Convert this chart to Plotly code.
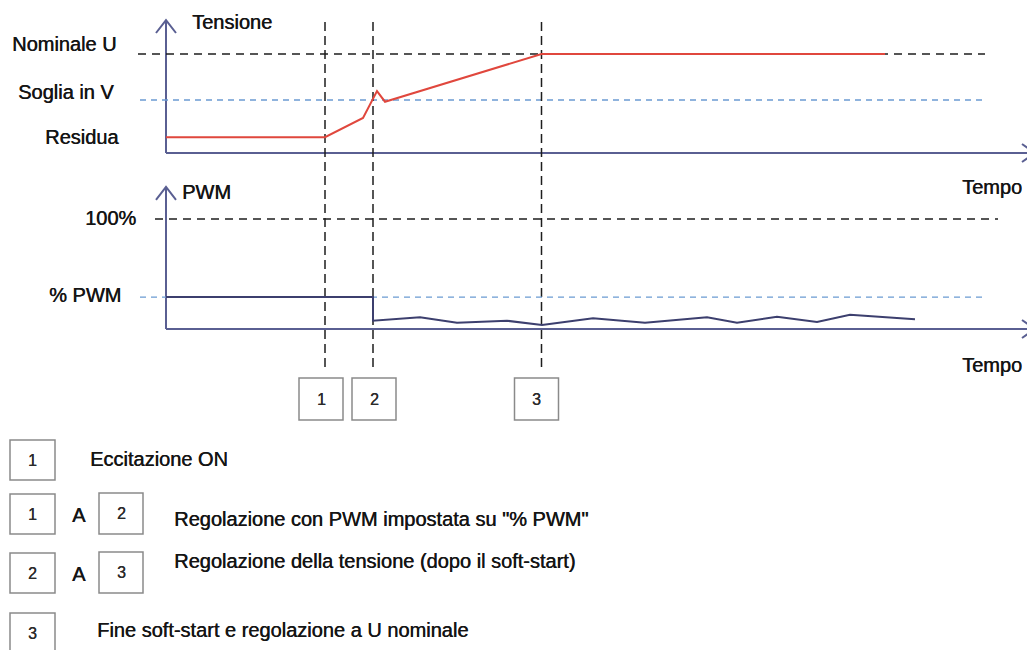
import plotly.graph_objects as go

# reference canvas is 1035x650; the page body has an 8px margin,
# so the figure is shrunk by that margin and all pixel helpers are offset.
REF_W, REF_H = 1035, 650
OFF = 8
W, H = REF_W - OFF, REF_H - OFF

# ---------------- data ----------------
# event instants (time units)
event_times = [15.9, 20.7, 37.55]
event_labels = ["1", "2", "3"]

# voltage chart (per-unit of nominal voltage)
v_level_names = ["Nominale U", "Soglia in V", "Residua"]
v_level_values = [1.0, 0.535, 0.16]
tension_t = [0, 15.9, 19.7, 21.1, 21.9, 37.55, 71.9]
tension_v = [0.16, 0.16, 0.354, 0.626, 0.518, 1.0, 1.0]

# PWM chart (%)
pwm_level_names = ["100%", "% PWM"]
pwm_level_values = [100, 29]
pwm_t = [0, 20.7, 20.7, 25.4, 29.1, 34.1, 37.6, 42.7, 47.9, 54.1, 57.1, 61.1, 65.1, 68.4, 74.9]
pwm_v = [29, 29, 7.5, 10.6, 5.7, 7.5, 3.6, 9.7, 5.7, 10.6, 5.7, 11.2, 6.4, 13.0, 8.8]

# legend rows
legend_first = ["1", "1", "2", "3"]
legend_second = [None, "2", "3", None]
legend_texts = [
    "Eccitazione ON",
    "Regolazione con PWM impostata su \"% PWM\"",
    "Regolazione della tensione (dopo il soft-start)",
    "Fine soft-start e regolazione a U nominale",
]

# ---------------- style ----------------
FONT = "Liberation Sans, Arial, sans-serif"
TXT = "#151515"
SHADOW = "0.45px 0 0 #151515"
AXIS_C = "#5a5f92"
RED = "#e0473d"
NAVY = "#3c3f6e"
BLUE_D = "#6b9bd2"
BLACK_D = "#1e1e1e"
BOX_C = "#8a8a8a"


def PX(px):  # paper x from reference pixel
    return (px - OFF) / W


def PY(py):  # paper y from reference pixel
    return 1 - (py - OFF) / H


fig = go.Figure()


def axis_trace(xs, ys, yaxis):
    fig.add_trace(go.Scatter(x=xs, y=ys, mode="lines", yaxis=yaxis,
                             line=dict(color=AXIS_C, width=2),
                             hoverinfo="skip", showlegend=False))


# voltage axes (open chevron arrows)
axis_trace([0, 0, None, -1.0, 0, 1.0], [0, 1.343, None, 1.212, 1.343, 1.212], "y")
axis_trace([0, 86.85, None, 85.6, 86.85, 85.6], [0, 0, None, 0.091, 0, -0.091], "y")
# PWM axes
axis_trace([0, 0, None, -1.0, 0, 1.0], [0, 129.1, None, 117.3, 129.1, 117.3], "y2")
axis_trace([0, 86.85, None, 85.6, 86.85, 85.6], [0, 0, None, 8.2, 0, -8.2], "y2")

# dashed reference levels
v_level_span = [(-2.8, 81.9), (-2.6, 81.9), None]
v_level_colors = [BLACK_D, BLUE_D, None]
v_level_dash = ["8px,6px", "6px,5px", None]
for val, span, col, dash in zip(v_level_values, v_level_span, v_level_colors, v_level_dash):
    if span is None:
        continue
    fig.add_trace(go.Scatter(x=list(span), y=[val, val], mode="lines", yaxis="y",
                             line=dict(color=col, width=1.4, dash=dash),
                             hoverinfo="skip", showlegend=False))

pwm_level_span = [(-1.1, 83.2), (-2.6, 81.6)]
pwm_level_colors = [BLACK_D, BLUE_D]
pwm_level_dash = ["8px,6px", "6px,5px"]
for val, span, col, dash in zip(pwm_level_values, pwm_level_span, pwm_level_colors, pwm_level_dash):
    fig.add_trace(go.Scatter(x=list(span), y=[val, val], mode="lines", yaxis="y2",
                             line=dict(color=col, width=1.4, dash=dash),
                             hoverinfo="skip", showlegend=False))

# vertical event lines
for t in event_times:
    fig.add_trace(go.Scatter(x=[t, t], y=[1.323, -2.212], mode="lines", yaxis="y",
                             line=dict(color=BLACK_D, width=1.5, dash="9px,5px"),
                             hoverinfo="skip", showlegend=False))

# tension curve
fig.add_trace(go.Scatter(x=tension_t, y=tension_v, mode="lines", yaxis="y",
                         line=dict(color=RED, width=2),
                         hoverinfo="skip", showlegend=False))
# PWM curve
fig.add_trace(go.Scatter(x=pwm_t, y=pwm_v, mode="lines", yaxis="y2",
                         line=dict(color=NAVY, width=2),
                         hoverinfo="skip", showlegend=False))

shapes = []
annotations = []


def text(x, y, s, xanchor="left", size=20, xref="paper", yref="paper", color=TXT):
    annotations.append(dict(x=x, y=y, xref=xref, yref=yref, text=s, showarrow=False,
                            xanchor=xanchor, yanchor="middle",
                            font=dict(family=FONT, size=size, color=color, shadow=SHADOW)))


def box(x0, y0, x1, y1, label, xref="paper"):
    shapes.append(dict(type="rect", xref=xref, yref="paper", x0=x0, x1=x1,
                       y0=PY(y1), y1=PY(y0), line=dict(color=BOX_C, width=1.5)))
    annotations.append(dict(x=(x0 + x1) / 2, y=PY((y0 + y1) / 2), xref=xref, yref="paper",
                            text=label, showarrow=False, xanchor="center", yanchor="middle",
                            font=dict(family=FONT, size=16, color="#2a2a2a",
                                      shadow="0.35px 0 0 #2a2a2a")))


# level labels (pixel lift above their level line)
v_label_right = [118, 116, 121]
v_label_lift = [10, 8, 0]
for name, val, xr, dy in zip(v_level_names, v_level_values, v_label_right, v_label_lift):
    text(PX(xr), val + dy / 99, name, xanchor="right", yref="y")
pwm_label_right = [138, 123]
pwm_label_lift = [1, 2]
for name, val, xr, dy in zip(pwm_level_names, pwm_level_values, pwm_label_right, pwm_label_lift):
    text(PX(xr), val + dy / 1.1, name, xanchor="right", yref="y2")

# axis titles
text(PX(190), PY(22), "Tensione")
text(PX(180), PY(192), "PWM")
text(PX(960), PY(187), "Tempo")
text(PX(960), PY(365), "Tempo")

# event boxes
box_offsets = [-0.4, 0.1, -0.5]
for t, lab, off in zip(event_times, event_labels, box_offsets):
    box(t + off - 2.2, 378, t + off + 2.2, 420, lab, xref="x")

# legend
row_tops = [440, 494, 553, 613]
text_x = [88, 172, 172, 95]
text_y = [459, 519, 561, 630]
for i in range(4):
    top = row_tops[i]
    box(PX(10), top, PX(55), top + 40, legend_first[i])
    if legend_second[i] is not None:
        text(PX(70), PY(top + 21), "A")
        box(PX(99), top - 1, PX(143), top + 40, legend_second[i])
    text(PX(text_x[i]), PY(text_y[i]), legend_texts[i])

# axis ranges: reference pixel -> data  (t = (px-166)/10, v = (153-py)/99, pwm = (329-py)/1.1)
fig.update_layout(
    width=W, height=H,
    margin=dict(l=0, r=0, t=0, b=0),
    paper_bgcolor="white", plot_bgcolor="white",
    xaxis=dict(range=[(OFF - 166) / 10, (REF_W - 166) / 10], visible=False, domain=[0, 1]),
    yaxis=dict(range=[(153 - REF_H) / 99, (153 - OFF) / 99], visible=False, domain=[0, 1]),
    yaxis2=dict(range=[(329 - REF_H) / 1.1, (329 - OFF) / 1.1], visible=False, overlaying="y"),
    shapes=shapes,
    annotations=annotations,
    showlegend=False,
)

fig.write_html("out.html")
